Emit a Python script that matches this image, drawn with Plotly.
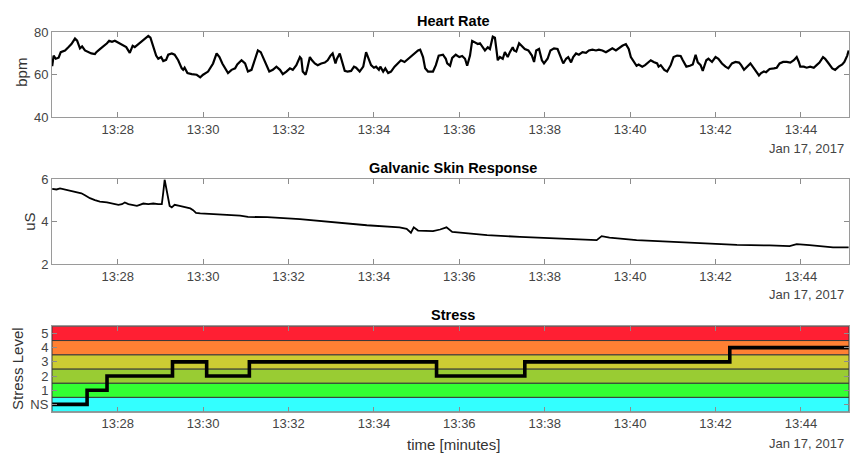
import pandas as pd
import plotly.graph_objects as go

BASE = pd.Timestamp("2017-01-17 13:26:00")

# ---- Heart rate (seconds after 13:26:00, bpm) ----
hr_sec = [28, 30, 33, 37, 40, 46, 51, 55, 60, 63, 67, 70, 74, 79, 83, 88, 90, 95, 100, 105,
          108, 112, 116, 121, 126, 132, 137, 141, 144, 149, 154, 158, 163, 166, 170, 174, 177, 181, 184, 188,
          191, 196, 200, 205, 210, 212, 214, 218, 224, 231, 236, 240, 247, 254, 259, 263, 267, 271, 275, 280,
          285, 288, 294, 299,
          303, 308, 312, 317, 321, 324, 329, 333, 338, 343, 348, 352, 357, 362, 366, 371, 376, 378, 380, 384,
          386, 390, 393, 397, 401, 406, 411, 415, 419, 422, 426, 428, 432, 435, 439, 443, 448, 452, 455, 460,
          465, 469, 472, 476, 480, 483, 487, 489, 493, 496, 500, 504, 509, 514, 518, 523, 528, 532, 537, 542,
          545, 549, 552, 556, 563, 567, 571, 577, 581,
          583, 587, 590, 595, 600, 604, 608, 611, 615, 618, 622, 626, 629, 633, 636, 640, 643, 647, 650, 652,
          654, 657, 661, 664, 668, 671, 675, 677, 680, 684, 688, 692, 697, 702, 705, 708, 712, 716, 719, 724,
          728, 733, 738, 743, 746, 750, 753, 757, 760, 764, 768, 773, 778, 782, 787, 792, 796, 801, 806, 810,
          815, 820, 824, 829, 834, 838, 841, 845, 849, 852, 857, 861,
          864, 869, 873, 878, 880, 883, 888, 892, 897, 901, 906, 911, 914, 919, 924, 928, 932, 935, 939, 942,
          947, 950, 955, 960, 964, 969, 974, 978, 983, 988, 993, 996, 1000, 1004, 1009, 1014, 1018, 1021, 1024, 1028,
          1031, 1036, 1042, 1046, 1050, 1055, 1060, 1065, 1070, 1074, 1077, 1079, 1084, 1088, 1093, 1098, 1102, 1106, 1111, 1114,
          1119, 1124, 1128, 1133, 1138, 1141, 1145, 1147]
hr_bpm = [64, 69, 67.5, 68, 70.6, 71.4, 73, 74.4, 77, 76, 72.4, 73.3, 71.4, 70.6, 70, 69.7, 70.6, 72, 73.3, 74.8,
          76, 75.5, 76, 75, 74.4, 73, 70.3, 73.6, 73, 74.4, 75.5, 77, 78.2, 77.4, 73.6, 69, 67.5, 68.3, 66.4, 67,
          69.4, 70, 69.4, 66.8, 63, 62.3, 63.3, 60.8, 60.3, 60, 58.8, 60, 61.5, 65.3, 70, 68.3, 65.3, 63, 60.8, 62.3,
          63, 64.8, 66.8, 65.3,
          61.5, 62.3, 66, 71.4, 70.6, 68.3, 63.8, 61.5, 62.3, 63.8, 62.3, 60.3, 61.5, 63, 62.3, 64.5, 68.3, 67.5, 61.5, 60,
          62.3, 68.3, 66.8, 65.3, 64.5, 65.3, 65.7, 66.8, 69, 70, 65.3, 67.5, 70, 66, 61.8, 61.5, 61.8, 63.8, 63.3, 61.5,
          63.8, 70.6, 68.3, 64.5, 63.3, 63.8, 62.3, 63.8, 61.5, 63, 60.8, 61.5, 63.8, 65.3, 66.8, 66, 67.5, 68.3, 70, 71.4,
          71.8, 68.3, 63, 61.5, 61.5, 64.5, 69, 69.4, 67.5,
          65.3, 64.2, 67.9, 69.4, 68.3, 68.8, 67.5, 64.2, 69, 75.9, 75, 74.4, 74.8, 72.9, 71.4, 72.9, 72.1, 77.9, 77.4, 72.1,
          66.8, 68.3, 67.5, 70.6, 68.3, 70.6, 72.9, 71.4, 70.9, 74.8, 73.3, 72.1, 71.4, 69, 66, 71.4, 72.1, 66.8, 65.3, 67.5,
          71.4, 72.4, 72.1, 68.3, 65.3, 67.5, 68.3, 65.8, 68.3, 70, 69.4, 70.6, 70.3, 71.4, 71.8, 71.4, 71.8, 71.4, 70.6, 71.4,
          72.4, 71.4, 72.4, 73.6, 74.4, 72.1, 68.3, 66, 64.2, 64.8, 63.8, 64.5,
          65.3, 66.8, 66, 65.3, 63.8, 64.5, 62.3, 61.5, 64.5, 68.3, 69, 68.8, 66.8, 63.8, 64.2, 64.8, 69.4, 65.8, 64.5, 61.8,
          66.8, 67.5, 66, 68.3, 67.5, 65.3, 63.8, 63, 65.3, 66, 65.7, 64.5, 62.3, 63.8, 65.3, 63, 60.8, 59.7, 60.8, 61.5,
          61.2, 62.7, 63, 63.3, 65.3, 66, 66, 65.7, 66.8, 68.3, 66, 63.8, 63.8, 63.3, 63.8, 63.3, 64.5, 65.7, 68.3, 67.5,
          65.3, 63, 62.3, 63.8, 64.8, 66, 69, 71.4]
assert len(hr_sec) == len(hr_bpm)

# ---- Galvanic skin response (seconds after 13:26:00, uS) ----
gsr_sec = [28, 34, 39, 46, 53, 62, 69, 74, 81, 88, 95, 105, 114, 121, 126, 130, 135, 142, 147, 151,
           156, 163, 170, 177, 182, 184, 186, 189, 191, 193, 196, 200, 207, 214, 222, 226, 230, 236, 245, 254,
           264, 273, 282, 292, 303, 330, 376, 423, 470, 516, 526, 532, 536, 542, 559, 563, 573, 582, 590, 615,
           639, 685, 731, 779, 793, 800, 811, 849, 896, 942, 990, 1036, 1064, 1074, 1092, 1125, 1147]
gsr_us = [5.55, 5.52, 5.57, 5.52, 5.49, 5.42, 5.34, 5.25, 5.11, 5.02, 4.95, 4.91, 4.85, 4.80, 4.83, 4.91, 4.83, 4.78, 4.75, 4.80,
          4.86, 4.83, 4.86, 4.83, 4.83, 5.37, 5.98, 5.45, 4.98, 4.75, 4.68, 4.80, 4.75, 4.71, 4.63, 4.55, 4.42, 4.40, 4.38, 4.37,
          4.35, 4.34, 4.33, 4.29, 4.23, 4.22, 4.13, 3.99, 3.84, 3.74, 3.67, 3.49, 3.74, 3.59, 3.56, 3.56, 3.64, 3.74, 3.53, 3.46,
          3.38, 3.29, 3.23, 3.18, 3.14, 3.33, 3.26, 3.14, 3.06, 2.99, 2.92, 2.89, 2.86, 2.95, 2.91, 2.80, 2.80]
assert len(gsr_sec) == len(gsr_us)

# ---- Stress level (0 = NS) ----
stress_sec = [28, 77, 105, 197, 245, 305, 568, 692, 980, 1147]
stress_lvl = [0, 1, 2, 3, 2, 3, 2, 3, 4, 4]

stress_ticks = [0, 1, 2, 3, 4, 5]
stress_labels = ["NS", "1", "2", "3", "4", "5"]
band_colors = ["#33FFFF", "#33FF33", "#99CC33", "#CCCC33", "#FF8033", "#FF1F33"]

x_start_sec, x_end_sec = 27.7, 1147.5


def ts(secs):
    return [BASE + pd.Timedelta(seconds=float(s)) for s in secs]


FONT = "Liberation Sans, Arial, sans-serif"
W, H = 850, 465
ML, MR = 52, 1
PW = W - ML - MR

fig = go.Figure()
fig.add_trace(go.Scatter(x=ts(hr_sec), y=hr_bpm, mode="lines", xaxis="x", yaxis="y",
                         line=dict(color="black", width=2.2), showlegend=False))
fig.add_trace(go.Scatter(x=ts(gsr_sec), y=gsr_us, mode="lines", xaxis="x2", yaxis="y2",
                         line=dict(color="black", width=1.8), showlegend=False))
fig.add_trace(go.Scatter(x=ts(stress_sec), y=stress_lvl, mode="lines", xaxis="x3", yaxis="y3",
                         line=dict(color="black", width=3.6, shape="hv"), showlegend=False))

xr = [BASE + pd.Timedelta(seconds=x_start_sec), BASE + pd.Timedelta(seconds=x_end_sec)]


def xaxis(anchor):
    return dict(type="date", range=xr, anchor=anchor, domain=[0, 1],
                tick0="2017-01-17 13:28:00", dtick=120000, tickformat="%H:%M",
                ticks="inside", ticklen=5, tickcolor="#8c8c8c", tickwidth=1,
                showline=True, linecolor="#9a9a9a", linewidth=1, mirror="ticks",
                showgrid=False, zeroline=False,
                tickfont=dict(family=FONT, size=13, color="#444444"))


def yaxis(anchor, dom, rng, tv, tt=None):
    d = dict(anchor=anchor, domain=dom, range=rng, tickvals=tv,
             ticks="inside", ticklen=5, tickcolor="#8c8c8c", tickwidth=1,
             showline=True, linecolor="#9a9a9a", linewidth=1, mirror="ticks",
             showgrid=False, zeroline=False,
             tickfont=dict(family=FONT, size=13, color="#444444"))
    if tt is not None:
        d["ticktext"] = tt
    return d


def py(px):
    return 1 - px / H


def pxx(px):
    return (px - ML) / PW


shapes = []
for lvl, col in zip(stress_ticks, band_colors):
    shapes.append(dict(type="rect", xref="x3 domain", yref="y3", x0=0, x1=1,
                       y0=lvl - 0.5, y1=lvl + 0.5, fillcolor=col,
                       line=dict(color="#3a3a3a", width=1), layer="below"))

annotations = []
for txt, ypx in [("Heart Rate", 14), ("Galvanic Skin Response", 166), ("Stress", 318)]:
    annotations.append(dict(text="<b>" + txt + "</b>", x=pxx(453), y=py(ypx), xref="paper", yref="paper",
                            showarrow=False, xanchor="center", yanchor="middle",
                            font=dict(family=FONT, size=14.5, color="black")))
for ypx in [146, 297, 451]:
    annotations.append(dict(text="Jan 17, 2017", x=pxx(846), y=py(ypx), xref="paper", yref="paper",
                            showarrow=False, xanchor="right", yanchor="middle",
                            font=dict(family=FONT, size=13, color="#444444")))
annotations.append(dict(text="time [minutes]", x=pxx(453), y=py(452), xref="paper", yref="paper",
                        showarrow=False, xanchor="center", yanchor="middle",
                        font=dict(family=FONT, size=15, color="#333333")))
for txt, xpx, ypx in [("bpm", 22, 68), ("uS", 30, 222), ("Stress Level", 18, 374)]:
    annotations.append(dict(text=txt, x=pxx(xpx), y=py(ypx), xref="paper", yref="paper",
                            showarrow=False, xanchor="center", yanchor="middle", textangle=-90,
                            font=dict(family=FONT, size=15, color="#333333")))

fig.update_layout(
    width=W, height=H,
    margin=dict(l=ML, r=MR, t=0, b=0),
    paper_bgcolor="white", plot_bgcolor="white",
    showlegend=False,
    xaxis=xaxis("y"), xaxis2=xaxis("y2"), xaxis3=xaxis("y3"),
    yaxis=yaxis("x", [py(114), py(26)], [40, 80], [40, 60, 80]),
    yaxis2=yaxis("x2", [py(266), py(178)], [2, 6], [2, 4, 6]),
    yaxis3=yaxis("x3", [py(418), py(330)], [-0.5, 5.5], stress_ticks, stress_labels),
    shapes=shapes, annotations=annotations,
    font=dict(family=FONT),
)

fig.write_html("out.html")
